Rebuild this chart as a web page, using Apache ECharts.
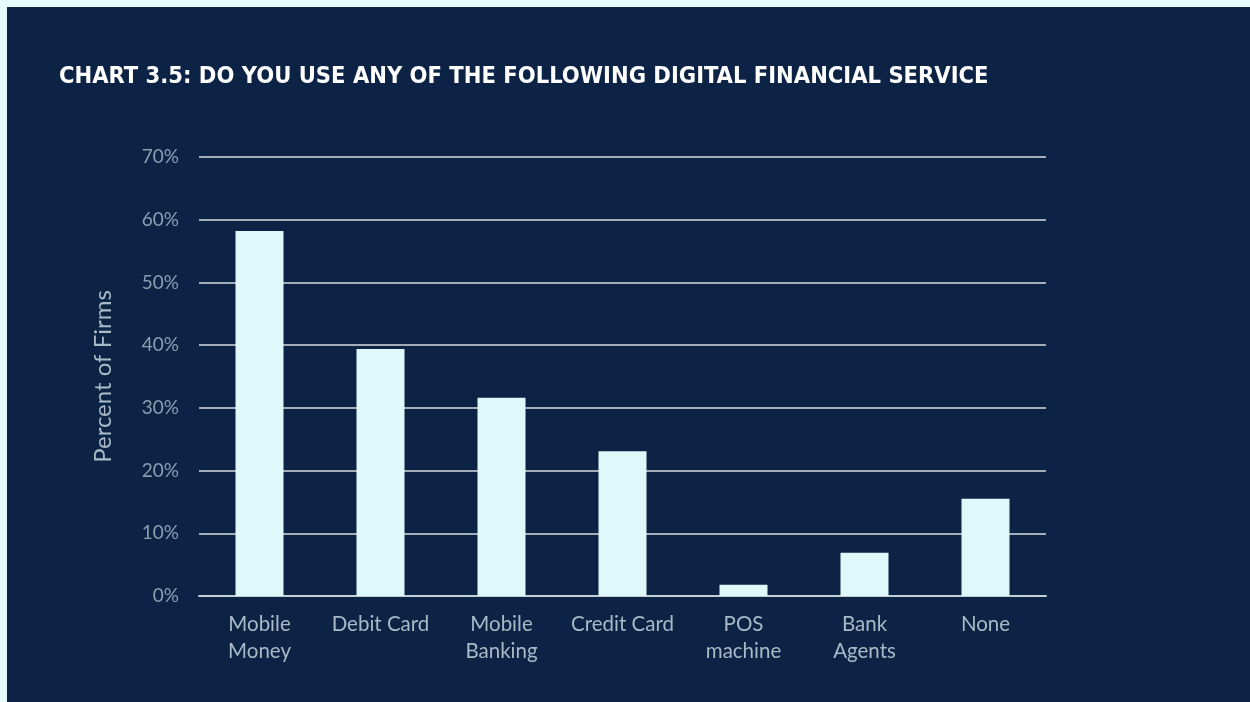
<!DOCTYPE html>
<html>
<head>
<meta charset="utf-8">
<style>
  html, body { margin: 0; padding: 0; background: #e6fbfb; }
  #chart { position: absolute; left: 7px; top: 7px; width: 1243px; height: 695px; }
</style>
<script src="https://cdn.jsdelivr.net/npm/echarts@6/dist/echarts.min.js"></script>
</head>
<body>
<div id="chart"></div>
<script>
const categories = ['Mobile\nMoney', 'Debit Card', 'Mobile\nBanking', 'Credit Card', 'POS\nmachine', 'Bank\nAgents', 'None'];
const percentFirms = [58.2, 39.4, 31.6, 23.1, 1.8, 6.9, 15.5];
const yTicks = { min: 0, max: 70, interval: 10 };

const chart = echarts.init(document.getElementById('chart'));
chart.setOption({
  backgroundColor: '#0c2346',
  title: {
    text: 'CHART 3.5: DO YOU USE ANY OF THE FOLLOWING DIGITAL FINANCIAL SERVICE',
    left: 47, top: 53,
    textStyle: { color: '#ffffff', fontFamily: '"DejaVu Sans Condensed", "Liberation Sans Narrow", sans-serif', fontWeight: 'bold', fontSize: 23.5 }
  },
  grid: { left: 192, right: 204, top: 150, bottom: 106 },
  xAxis: {
    type: 'category',
    data: categories,
    axisTick: { show: false },
    axisLine: { lineStyle: { color: '#c4ccd5', width: 2 } },
    axisLabel: { interval: 0, color: '#a7bac6', fontFamily: 'Lato', fontSize: 20.5, lineHeight: 27, margin: 15 }
  },
  yAxis: {
    type: 'value',
    min: yTicks.min, max: yTicks.max, interval: yTicks.interval,
    name: 'Percent of Firms',
    nameLocation: 'middle',
    nameGap: 84,
    nameTextStyle: { color: '#a7bac6', fontFamily: 'Lato', fontSize: 24 },
    axisLabel: { formatter: '{value}%', color: '#8a9fb0', fontFamily: 'Lato', fontSize: 19, margin: 20 },
    splitLine: { lineStyle: { color: '#a4acb8', width: 2 } },
    axisLine: { show: false },
    axisTick: { show: false }
  },
  series: [{
    type: 'bar',
    data: percentFirms,
    barWidth: 48,
    itemStyle: { color: '#dff9fb' }
  }]
});
</script>
</body>
</html>
